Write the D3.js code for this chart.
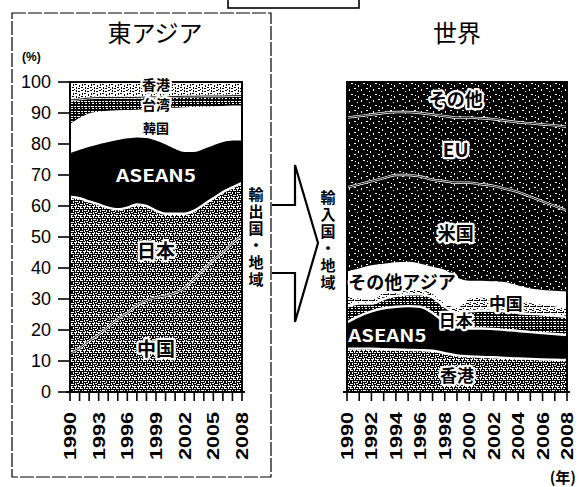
<!DOCTYPE html>
<html>
<head>
<meta charset="utf-8">
<title>東アジア・世界</title>
<style>
  body { margin: 0; background: #fff; }
  text { font-family: "Noto Sans CJK JP", "Liberation Sans", sans-serif; }
  .num { font-family: "Liberation Sans", Arial, sans-serif; }
</style>
</head>
<body>
<script src="https://d3js.org/d3.v7.min.js"></script>
<script>
// years on both panels
const years = [1990, 1991, 1992, 1993, 1994, 1995, 1996, 1997, 1998, 1999,
               2000, 2001, 2002, 2003, 2004, 2005, 2006, 2007, 2008];

// 東アジア (exporters), % share, bottom to top
const eaChina    = [12.5, 14, 16.5, 18.5, 21, 23.5, 25.5, 28, 29.5, 30.5, 31, 32, 33.5, 36.5, 39.5, 42.5, 45, 48, 50.5];
const eaJapan    = [50.5, 48.5, 45, 42, 38.5, 35.5, 34, 32.5, 30.5, 28, 26.5, 25.5, 24, 22, 21, 20, 19.5, 18, 17];
const eaAsean    = [14.5, 16, 18, 19.8, 21.5, 22.7, 22.7, 22, 22.3, 23, 22.8, 21.3, 20.3, 19.3, 18.3, 17.5, 16.5, 15.5, 14];
const eaKorea    = [8.5, 9.5, 10, 9.7, 9.3, 8.8, 8.4, 8.2, 8.5, 9.5, 10.9, 12.5, 13.7, 13.8, 12.9, 11.8, 10.9, 10.5, 10.5];
const eaTaiwan   = [8.2, 6.5, 5.3, 5, 4.7, 4.5, 4.4, 4.3, 4.4, 4.2, 4.1, 4, 3.9, 3.8, 3.8, 3.7, 3.6, 3.6, 3.6];
const eaHongKong = [5.8, 5.5, 5.2, 5, 5, 5, 5, 5, 4.8, 4.8, 4.7, 4.7, 4.6, 4.6, 4.5, 4.5, 4.5, 4.4, 4.4];

// 世界 (importers), % share, bottom to top
const wHongKong  = [14, 14, 14, 13.8, 13.7, 13.6, 13.5, 13.3, 12.5, 11.8, 11.5, 11.3, 11.2, 11, 10.8, 10.7, 10.5, 10.4, 10.3];
const wAsean     = [8.5, 10.5, 12, 13.2, 13.8, 14.1, 14, 12.2, 10, 9.2, 9, 9.2, 9.1, 9, 8.9, 8.6, 8.5, 8.3, 8.1];
const wJapan     = [5, 4, 2.5, 3, 3.5, 3.8, 4, 5, 5, 4.5, 5.5, 5.8, 6, 6, 5.8, 5.9, 6, 5.9, 5.8];
const wChina     = [3.5, 2, 1.5, 2.5, 2.3, 2, 2, 1.5, 1.5, 2, 4.5, 4.5, 4.4, 4.5, 4.5, 3.8, 3.5, 3.4, 3.3];
const wOtherAsia = [7.5, 9, 10.5, 8.5, 8.2, 8.1, 7.5, 8, 10, 9, 5, 4.7, 4.6, 4.5, 4, 4, 4, 4.3, 4.5];
const wUS        = [27.5, 27.5, 27.5, 28, 28.5, 28.4, 28.5, 28.5, 29, 31, 32, 31.5, 31.2, 30.5, 30.5, 30, 29, 27.7, 26.5];
const wEU        = [22.5, 22, 21.5, 21, 20.3, 20.3, 20.5, 21, 21, 21, 21, 21.3, 21.5, 22, 22.5, 23.7, 24.8, 26, 27];
const wOther     = [11.5, 11, 10.5, 10, 9.7, 9.7, 10, 10.5, 11, 11.5, 11.5, 11.7, 12, 12.5, 13, 13.3, 13.7, 14, 14.5];

const yTicks = [0, 10, 20, 30, 40, 50, 60, 70, 80, 90, 100];
const eaTickLabels = [1990, 1993, 1996, 1999, 2002, 2005, 2008];
const wTickLabels = [1990, 1992, 1994, 1996, 1998, 2000, 2002, 2004, 2006, 2008];

const W = 580, H = 487;
const svg = d3.select("body").append("svg").attr("width", W).attr("height", H);
const defs = svg.append("defs");

// scan-like textures
function pattern(id, size, bg, fg, bits) {
  const p = defs.append("pattern").attr("id", id)
    .attr("width", size[0]).attr("height", size[1])
    .attr("patternUnits", "userSpaceOnUse");
  p.append("rect").attr("width", size[0]).attr("height", size[1]).attr("fill", bg);
  bits.forEach(b => p.append("rect").attr("x", b[0]).attr("y", b[1])
    .attr("width", b[2]).attr("height", b[3]).attr("fill", fg));
}
// mid grey stipple (maze-like)
pattern("stip", [9, 9], "#000", "#fff", [
  [0,1,2,1],[3,0,1,2],[5,1,2,1],[8,0,1,2],[1,3,1,2],[3,3,3,1],[7,3,1,2],[0,6,2,1],
  [3,5,1,2],[5,5,2,1],[8,6,1,1],[2,8,3,1],[6,7,1,2],[0,8,1,1],[4,7,1,1],[7,8,2,1],[5,3,1,1]
]);
// lighter stipple
pattern("stipL", [9, 9], "#fff", "#000", [
  [0,0,2,1],[4,0,1,2],[6,1,2,1],[1,3,1,2],[3,3,2,1],[7,4,1,2],[0,6,2,1],[4,6,1,2],[6,7,2,1],[2,8,1,1]
]);
// dark speckle
pattern("dark", [12, 11], "#000", "#fff", [
  [1,1,1,2],[6,0,2,1],[9,3,1,1],[3,6,2,1],[10,8,1,2],[7,7,1,1]
]);
// horizontal hatch
pattern("hatch", [7, 5], "#000", "#fff", [
  [0,1,3,1],[4,1,2,1],[1,3,2,1],[5,3,1,1]
]);
pattern("hatchL", [7, 6], "#fff", "#000", [
  [0,0,4,1],[5,0,2,1],[1,2,1,1],[4,3,3,1],[0,4,2,1],[3,5,1,1]
]);

function drawPanel(cfg) {
  const x = d3.scaleLinear().domain([1990, 2008]).range(cfg.xr);
  const y = d3.scaleLinear().domain([0, 100]).range([392, 82]);
  const rows = years.map((yr, i) => {
    const r = { year: yr };
    cfg.keys.forEach((k, j) => r[k] = cfg.series[j][i]);
    return r;
  });
  const stack = d3.stack().keys(cfg.keys)(rows);
  const area = d3.area().curve(d3.curveMonotoneX)
    .x(d => x(d.data.year)).y0(d => y(d[0])).y1(d => y(Math.min(d[1], 100)));
  const topLine = d3.line().curve(d3.curveMonotoneX)
    .x(d => x(d.data.year)).y(d => y(Math.min(d[1], 100)));
  const g = svg.append("g");
  g.append("rect").attr("x", cfg.xr[0]).attr("y", y(100))
    .attr("width", cfg.xr[1] - cfg.xr[0]).attr("height", y(0) - y(100)).attr("fill", "#000");
  g.selectAll("path.layer").data(stack).join("path")
    .attr("class", "layer")
    .attr("d", area)
    .attr("fill", (d, i) => cfg.fills[i]);
  // boundary lines: white with a thin dark core, like the scan
  g.selectAll("path.edge").data(stack.slice(0, -1)).join("path")
    .attr("class", "edge").attr("d", topLine)
    .attr("fill", "none").attr("stroke", "#fff").attr("stroke-width", 2.4);
  g.selectAll("path.core").data(stack.slice(0, -1).filter((d, i) => cfg.cores && cfg.cores[i]))
    .join("path").attr("class", "core").attr("d", topLine)
    .attr("fill", "none").attr("stroke", "#000").attr("stroke-width", 0.9);
  g.append("rect").attr("x", cfg.xr[0]).attr("y", y(100))
    .attr("width", cfg.xr[1] - cfg.xr[0]).attr("height", y(0) - y(100))
    .attr("fill", "none").attr("stroke", "#000").attr("stroke-width", 2);

  // x axis
  const ax = svg.append("g").attr("transform", "translate(0,392)");
  ax.append("line").attr("x1", cfg.xr[0] - 4).attr("x2", cfg.xr[1] + 3)
    .attr("stroke", "#000").attr("stroke-width", 2);
  ax.selectAll("line.t").data(years).join("line").attr("class", "t")
    .attr("x1", d => x(d)).attr("x2", d => x(d)).attr("y1", 0).attr("y2", 9)
    .attr("stroke", "#000").attr("stroke-width", 1.6);
  ax.selectAll("text").data(cfg.tickLabels).join("text")
    .attr("class", "num")
    .attr("transform", d => `translate(${x(d) + 6},${68}) rotate(-90)`)
    .attr("font-size", 17).attr("font-weight", "bold")
    .attr("textLength", 48).attr("lengthAdjust", "spacingAndGlyphs")
    .text(d => d);

  cfg.labels.forEach(l => label(x(l.year), y(l.v), l.text, l.size, l.inv, l.len));
  return { x, y };
}

function label(px, py, txt, size, inv, len) {
  const t = svg.append("text").attr("x", px).attr("y", py)
    .attr("text-anchor", "middle").attr("dominant-baseline", "central")
    .attr("font-size", size).attr("font-weight", "bold")
    .attr("paint-order", "stroke");
  if (len) t.attr("textLength", len).attr("lengthAdjust", "spacingAndGlyphs");
  if (inv) {
    t.attr("fill", "#fff").attr("stroke", "#000").attr("stroke-width", 2.5)
      .attr("font-family", "'Liberation Sans', Arial, sans-serif");
  } else {
    t.attr("fill", "#000").attr("stroke", "#fff").attr("stroke-width", 4.5)
      .attr("stroke-linejoin", "round");
  }
  t.text(txt);
}

// left: 東アジア
const left = drawPanel({
  xr: [70, 242],
  keys: ["中国", "日本", "ASEAN5", "韓国", "台湾", "香港"],
  series: [eaChina, eaJapan, eaAsean, eaKorea, eaTaiwan, eaHongKong],
  fills: ["url(#stip)", "url(#stip)", "#000", "#fff", "url(#hatch)", "url(#stipL)"],
  cores: [true, false, false, false, true],
  tickLabels: eaTickLabels,
  labels: [
    { year: 1999, v: 99.2, text: "香港", size: 14 },
    { year: 1999, v: 92.8, text: "台湾", size: 14 },
    { year: 1999, v: 85.4, text: "韓国", size: 13 },
    { year: 1999, v: 70.3, text: "ASEAN5", size: 17, inv: true, len: 80 },
    { year: 1999, v: 46, text: "日本", size: 19 },
    { year: 1999, v: 14.2, text: "中国", size: 19 }
  ]
});

// y axis on the left panel
const yAx = svg.append("g");
yAx.selectAll("line").data(yTicks).join("line")
  .attr("x1", 58).attr("x2", 70).attr("y1", d => left.y(d)).attr("y2", d => left.y(d))
  .attr("stroke", "#000").attr("stroke-width", 1.6);
yAx.selectAll("text").data(yTicks).join("text")
  .attr("class", "num").attr("x", 51).attr("y", d => left.y(d))
  .attr("text-anchor", "end").attr("dominant-baseline", "central")
  .attr("font-size", 18).text(d => d);
svg.append("text").attr("class", "num").attr("x", 22).attr("y", 61)
  .attr("font-size", 12).attr("font-weight", "bold").text("(%)");

// right: 世界
drawPanel({
  xr: [347, 567],
  keys: ["香港", "ASEAN5", "日本", "中国", "その他アジア", "米国", "EU", "その他"],
  series: [wHongKong, wAsean, wJapan, wChina, wOtherAsia, wUS, wEU, wOther],
  fills: ["url(#stip)", "#000", "url(#hatch)", "url(#hatchL)", "#fff", "url(#dark)", "url(#dark)", "url(#dark)"],
  cores: [false, false, false, false, false, true, true],
  tickLabels: wTickLabels,
  labels: [
    { year: 1998.9, v: 94.8, text: "その他", size: 18 },
    { year: 1998.9, v: 78.4, text: "EU", size: 19 },
    { year: 1998.9, v: 51.6, text: "米国", size: 18 },
    { year: 1994.5, v: 35.8, text: "その他アジア", size: 18 },
    { year: 2003, v: 29, text: "中国", size: 17 },
    { year: 1998.9, v: 23.5, text: "日本", size: 17 },
    { year: 1993.3, v: 18.4, text: "ASEAN5", size: 17, inv: true, len: 78 },
    { year: 1999, v: 5.8, text: "香港", size: 17 }
  ]
});

// titles
svg.append("text").attr("x", 155).attr("y", 31).attr("text-anchor", "middle")
  .attr("dominant-baseline", "central").attr("font-size", 24).text("東アジア");
svg.append("text").attr("x", 457).attr("y", 31).attr("text-anchor", "middle")
  .attr("dominant-baseline", "central").attr("font-size", 24).text("世界");
svg.append("text").attr("x", 576).attr("y", 483).attr("text-anchor", "end")
  .attr("font-size", 15).attr("font-weight", "bold").text("(年)");

// frames and arrow
svg.append("rect").attr("x", 12).attr("y", 13).attr("width", 259).attr("height", 464)
  .attr("fill", "none").attr("stroke", "#000").attr("stroke-width", 1.2)
  .attr("stroke-dasharray", "14 2");
svg.append("rect").attr("x", 228).attr("y", -4).attr("width", 131).attr("height", 12)
  .attr("fill", "none").attr("stroke", "#000").attr("stroke-width", 1.6);
svg.append("polyline")
  .attr("points", "272,205 295,205 295,165 318,243 295,322 295,273 272,273")
  .attr("fill", "#fff").attr("stroke", "#000").attr("stroke-width", 2.2)
  .attr("stroke-linejoin", "miter");

function vtext(px, py0, txt) {
  svg.append("text").attr("x", px).attr("y", py0)
    .style("writing-mode", "vertical-rl")
    .attr("font-size", 15).attr("font-weight", "bold")
    .attr("letter-spacing", 2).text(txt);
}
vtext(256, 187, "輸出国・地域");
vtext(328, 190, "輸入国・地域");
</script>
</body>
</html>
